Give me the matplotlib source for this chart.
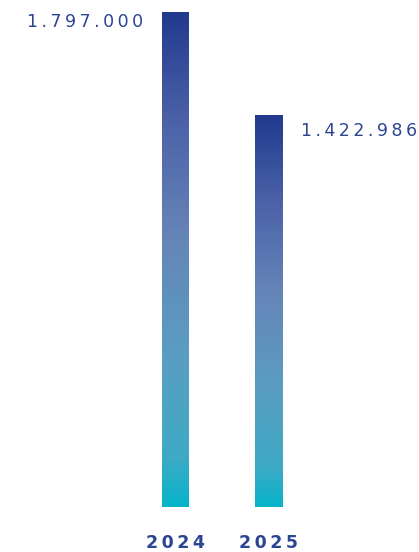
import numpy as np
import matplotlib
matplotlib.use("Agg")
import matplotlib.pyplot as plt
from matplotlib.colors import LinearSegmentedColormap

years = ["2024", "2025"]
values = [1797000, 1422986]
value_labels = ["1.797.000", "1.422.986"]

def spaced(s, sep="\u2009"):
    return sep.join(list(s))

fig = plt.figure(figsize=(4.19, 5.52), dpi=100)
ax = fig.add_axes([0, 0, 1, 1])
ax.set_axis_off()

unit = 93.25
ax.set_xlim(-175.5 / unit, (419 - 175.5) / unit)
ymax = values[0]
ax.set_ylim(-45 / 495 * ymax, ymax + 12 / 495 * ymax)

cmap = LinearSegmentedColormap.from_list(
    "g", [(0.0, "#06b4ca"), (0.1, "#3eaac6"), (0.3, "#5a9ec2"),
          (0.55, "#6584b8"), (0.78, "#4b62a8"), (1.0, "#223a8e")])
grad = np.linspace(1, 0, 256).reshape(-1, 1)
w = 27 / unit
txt_color = "#2b4593"
for i, v in enumerate(values):
    ax.imshow(grad, cmap=cmap, aspect="auto", interpolation="bicubic",
              extent=[i - w / 2, i + w / 2, 0, v], zorder=2)
    ax.annotate(spaced(years[i]), (i, 0), xytext=(0, -36), textcoords="offset pixels",
                ha="center", va="center", fontsize=12.5, fontweight="bold",
                color=txt_color, family="DejaVu Sans")

ax.annotate(spaced(value_labels[0]), (0 - w / 2, values[0]), xytext=(-19, -10),
            textcoords="offset pixels", ha="right", va="center", fontsize=12.5,
            color=txt_color, family="DejaVu Sans")
ax.annotate(spaced(value_labels[1]), (1 + w / 2, values[1]), xytext=(19, -16),
            textcoords="offset pixels", ha="left", va="center", fontsize=12.5,
            color=txt_color, family="DejaVu Sans")

fig.savefig("out.png", dpi=100)
